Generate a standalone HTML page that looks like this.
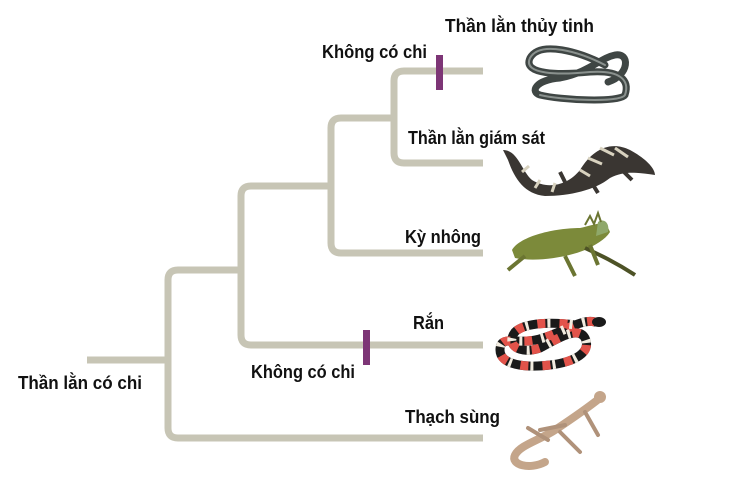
<!DOCTYPE html>
<html><head><meta charset="utf-8"><style>
html,body{margin:0;padding:0;background:#fff;}
svg{display:block}
text{font-family:"Liberation Sans",sans-serif;font-weight:bold;font-size:18px;fill:#111;}
</style></head><body>
<svg width="736" height="493" viewBox="0 0 736 493" xmlns="http://www.w3.org/2000/svg">
<g fill="none" stroke="#c7c5b5" stroke-width="7" stroke-linejoin="round">
<line x1="87" y1="360" x2="168" y2="360"/>
<path d="M483 438 H178 Q168 438 168 428 V280 Q168 270 178 270 H241"/>
<path d="M483 345 H251 Q241 345 241 335 V196 Q241 186 251 186 H331"/>
<path d="M483 253 H341 Q331 253 331 243 V128 Q331 118 341 118 H394"/>
<path d="M483 163 H404 Q394 163 394 153 V81 Q394 71 404 71 H483"/>
</g>
<rect x="436" y="55" width="7" height="35" fill="#7d3576"/>
<rect x="363" y="330" width="7" height="35" fill="#7d3576"/>
<text x="322" y="58" textLength="105" lengthAdjust="spacingAndGlyphs">Không có chi</text>
<text x="445" y="32" textLength="149" lengthAdjust="spacingAndGlyphs">Thần lằn thủy tinh</text>
<text x="408" y="144" textLength="137" lengthAdjust="spacingAndGlyphs">Thần lằn giám sát</text>
<text x="405" y="243" textLength="76" lengthAdjust="spacingAndGlyphs">Kỳ nhông</text>
<text x="413" y="329" textLength="31" lengthAdjust="spacingAndGlyphs">Rắn</text>
<text x="251" y="378" textLength="104" lengthAdjust="spacingAndGlyphs">Không có chi</text>
<text x="405" y="423" textLength="95" lengthAdjust="spacingAndGlyphs">Thạch sùng</text>
<text x="18" y="389" textLength="124" lengthAdjust="spacingAndGlyphs">Thần lằn có chi</text>
<!-- glass lizard -->
<g fill="none" stroke-linecap="round">
<path d="M605 65 C580 52 540 40 530 58 C522 75 560 75 590 72 C620 70 630 80 625 95 C620 103 560 100 540 95 C530 92 535 80 560 78 C590 72 600 58 615 55 C630 52 630 75 608 82" stroke="#3f4644" stroke-width="7"/>
<path d="M605 65 C580 52 540 40 530 58 C522 75 560 75 590 72 C620 70 630 80 625 95 C620 103 560 100 540 95" stroke="#8a918e" stroke-width="2"/>
</g>
<!-- monitor lizard -->
<g>
<path d="M503 150 C518 150 522 172 532 180 C548 190 568 185 580 170 C592 150 610 140 630 150 C645 158 655 168 655 175 C640 173 625 170 610 178 C595 190 570 196 545 196 C525 194 515 180 508 160 Z" fill="#3a3632"/>
<g stroke="#d8d2bf" stroke-width="3"><line x1="522" y1="172" x2="529" y2="166"/><line x1="535" y1="188" x2="540" y2="180"/><line x1="552" y1="192" x2="555" y2="183"/><line x1="580" y1="170" x2="590" y2="176"/><line x1="588" y1="158" x2="602" y2="164"/><line x1="600" y1="148" x2="614" y2="155"/><line x1="615" y1="148" x2="628" y2="157"/></g>
<path d="M590 180 L598 193 M620 168 L632 180 M565 182 L560 172" stroke="#3a3632" stroke-width="4"/>
</g>
<!-- iguana -->
<g>
<path d="M512 250 C520 236 555 228 580 228 C595 225 605 218 610 232 C605 240 595 245 585 250 C565 258 535 262 515 258 Z" fill="#7c8a3a"/>
<path d="M598 222 C603 218 610 222 608 232 L596 236 Z" fill="#8fa86a"/>
<path d="M585 248 C600 255 615 262 635 275" stroke="#4d5226" stroke-width="4" fill="none"/>
<path d="M525 256 L508 270 M565 256 L575 276 M590 245 L598 265" stroke="#6b7532" stroke-width="4"/>
<path d="M585 225 L590 216 L594 224 L598 213 L601 222" stroke="#6b7532" stroke-width="2" fill="none"/>
</g>
<!-- coral snake -->
<g fill="none" stroke-linecap="round">
<path id="cs" d="M595 322 C580 318 560 335 535 340 C515 344 500 335 500 350 C500 365 525 368 550 365 C575 362 592 352 585 338 C578 325 555 340 540 348 C520 355 505 345 515 332 C525 322 555 322 575 325" stroke="#1a1a1a" stroke-width="9"/>
<path d="M595 322 C580 318 560 335 535 340 C515 344 500 335 500 350 C500 365 525 368 550 365 C575 362 592 352 585 338 C578 325 555 340 540 348 C520 355 505 345 515 332 C525 322 555 322 575 325" stroke="#e2534a" stroke-width="9" stroke-dasharray="8 14" stroke-linecap="butt"/>
<path d="M595 322 C580 318 560 335 535 340 C515 344 500 335 500 350 C500 365 525 368 550 365 C575 362 592 352 585 338 C578 325 555 340 540 348 C520 355 505 345 515 332 C525 322 555 322 575 325" stroke="#f2ece0" stroke-width="9" stroke-dasharray="3 19" stroke-dashoffset="-10" stroke-linecap="butt"/>
<ellipse cx="599" cy="322" rx="7" ry="5" fill="#1a1a1a" stroke="none"/>
</g>
<!-- gecko -->
<g fill="none" stroke-linecap="round">
<path d="M600 398 C585 410 570 420 555 430 C540 440 520 445 515 455 C510 465 530 470 545 462" stroke="#c4a58a" stroke-width="8"/>
<path d="M585 412 L598 435 M565 425 L540 430 M560 432 L580 452 M548 440 L528 428" stroke="#b0927a" stroke-width="4"/>
<circle cx="600" cy="397" r="6" fill="#c4a58a"/>
</g>
</svg>
</body></html>
